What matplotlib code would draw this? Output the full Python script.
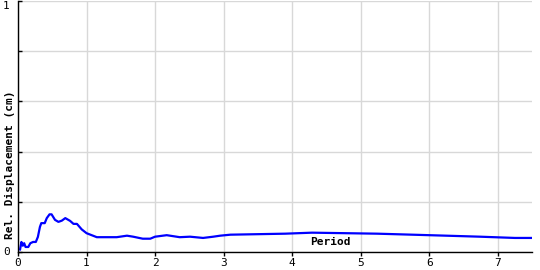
import matplotlib
matplotlib.use("Agg")
import matplotlib.pyplot as plt

period = [0.03, 0.05, 0.07, 0.09, 0.11, 0.15, 0.18, 0.22, 0.26, 0.29, 0.32, 0.34,
          0.39, 0.42, 0.46, 0.49, 0.54, 0.59, 0.64, 0.69, 0.76, 0.81, 0.86, 0.93,
          1.00, 1.15, 1.44, 1.59, 1.68, 1.82, 1.93, 2.00, 2.17, 2.36, 2.51, 2.70,
          2.85, 2.95, 3.10, 3.90, 4.29, 5.24, 5.75, 6.25, 6.74, 7.25, 7.5]
disp = [0.01, 0.04, 0.025, 0.035, 0.02, 0.02, 0.035, 0.04, 0.04, 0.06, 0.10, 0.115,
        0.115, 0.135, 0.15, 0.15, 0.128, 0.12, 0.125, 0.135, 0.124, 0.112, 0.112, 0.09,
        0.075, 0.059, 0.059, 0.065, 0.061, 0.053, 0.053, 0.061, 0.067, 0.059, 0.061, 0.056,
        0.061, 0.065, 0.069, 0.073, 0.077, 0.073, 0.069, 0.065, 0.061, 0.056, 0.056]

xticks = [0, 1, 2, 3, 4, 5, 6, 7]
yticks = [0, 0.2, 0.4, 0.6, 0.8, 1.0]
ytick_labels = ["0", "", "", "", "", "1"]

fig = plt.figure(figsize=(5.4, 2.7), dpi=100)
ax = fig.add_axes([18/540, 18/270, (532-18)/540, (252-1)/270])
ax.plot(period, disp, color="#0000ff", lw=1.6)
ax.set_xlim(0, 7.5)
ax.set_ylim(0, 1)
ax.set_xticks(xticks)
ax.set_xticklabels([str(t) for t in xticks], family="DejaVu Sans Mono", fontsize=8)
ax.set_yticks(yticks)
ax.set_yticklabels(ytick_labels, family="DejaVu Sans Mono", fontsize=8)
ax.tick_params(axis="x", direction="out", length=3, pad=1, width=1)
ax.tick_params(axis="y", direction="in", length=3, pad=6, width=1)
labels = ax.get_yticklabels()
labels[-1].set_va("top")
labels[0].set_va("center")
ax.grid(True, color="#d8d8d8", lw=1)
ax.set_axisbelow(True)
for s in ["top", "right"]:
    ax.spines[s].set_visible(False)
for s in ["left", "bottom"]:
    ax.spines[s].set_linewidth(1)
    ax.spines[s].set_color("black")
fig.text(10/540, 1 - 165/270, "Rel. Displacement (cm)", rotation=90, ha="center", va="center",
         family="DejaVu Sans Mono", fontweight="bold", fontsize=8)
fig.text(330/540, 28/270, "Period", ha="center", va="center",
         family="DejaVu Sans Mono", fontweight="bold", fontsize=8)
fig.savefig("out.png", dpi=100)
